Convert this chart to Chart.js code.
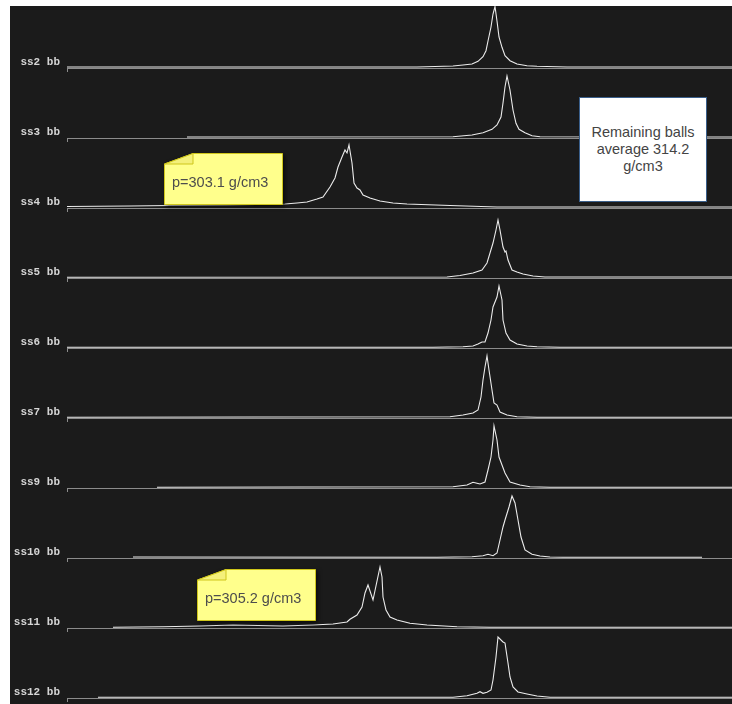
<!DOCTYPE html>
<html>
<head>
<meta charset="utf-8">
<script src="https://cdn.jsdelivr.net/npm/chart.js@4.4.1/dist/chart.umd.min.js"></script>
<style>
  body { margin: 0; background: #ffffff; width: 732px; height: 704px; position: relative; overflow: hidden; }
  #chartSection { position: absolute; left: 10px; top: 6px; width: 722px; height: 698px; background: #1b1b1b; overflow: hidden; }
  #chartSection canvas { position: absolute; left: 0; }
  .note { position: absolute; width: 119px; height: 52px; }
  .note svg { position: absolute; left: 0; top: 0; filter: drop-shadow(2px 2px 2px rgba(0,0,0,0.6)); }
  .note span { position: absolute; left: 8px; top: 21px; font: 14.5px "Liberation Sans", Arial, sans-serif; color: #4d4d4d; white-space: nowrap; }
  #infoBox { position: absolute; left: 579px; top: 97px; width: 128px; height: 105px; box-sizing: border-box;
    background: #ffffff; border: 1px solid #3a5f8b; display: flex; align-items: center; justify-content: center;
    text-align: center; font: 14.5px "Liberation Sans", Arial, sans-serif; line-height: 17px; color: #444444; }
</style>
</head>
<body>
<div id="chartSection"></div>
<div id="infoBox"></div>

<script>
// panel labels (top to bottom)
const panelLabels = ["ss2 bb", "ss3 bb", "ss4 bb", "ss5 bb", "ss6 bb", "ss7 bb", "ss9 bb", "ss10 bb", "ss11 bb", "ss12 bb"];

// traces: [channel, counts]
const ss2 = [[0,1],[350,1],[386,2],[396,3],[405,4],[411,6.7],[416,11.3],[419,17.3],[421,27],[424,41],[426,54],[428,61.5],[430,47],[432,31],[435,20.7],[438,12.3],[443,7.3],[450,4],[460,2.3],[470,1.7],[500,1],[665,1]];
const ss3 = [[120,1],[386,1.3],[405,3],[416,5.3],[425,8.7],[430,13],[434,21],[436,35],[438,51],[440,62],[443,48],[446,28],[449,14.7],[452,8.7],[458,5.3],[465,2.3],[473,1.3],[665,1]];
const ss4 = [[0,1.5],[63,2],[103,2.5],[160,3],[218,4],[230,5],[240,6],[250,9],[256,11],[263,21],[268,30],[271,41],[275,51],[278,58],[280,55],[282,63],[285,45],[287,25],[290,20],[293,18],[296,13],[303,10],[313,7],[326,5],[340,4],[383,2.5],[430,1],[665,1]];
const ss5 = [[0,0.7],[380,1],[393,2.5],[406,5],[415,8],[420,15],[423,25],[426,35],[429,48],[431,58],[433,48],[436,31],[438,26],[439,27],[441,18],[445,8],[450,6],[456,4],[466,2],[478,1],[665,1]];
const ss6 = [[0,0.7],[366,0.7],[396,1.3],[406,2],[411,4],[415,6],[418,6],[421,15],[424,28],[426,41],[430,51],[432,62],[435,48],[436,28],[439,15],[443,8],[450,4],[460,2],[470,1.3],[493,0.7],[665,0.7]];
const ss7 = [[0,0.7],[383,1.3],[396,3],[406,5],[411,8],[414,21],[416,38],[418,51],[420,62],[422,48],[425,28],[427,15],[430,13],[433,6],[440,3],[450,1.3],[470,0.7],[665,0.7]];
const ss9 = [[90,0.7],[386,1.3],[400,3],[406,5.7],[410,4.7],[413,4],[418,6],[421,18],[424,31],[426,48],[427,62],[430,48],[432,31],[435,23],[438,15],[443,6],[453,3],[463,1.3],[483,0.7],[665,0.7]];
const ss10 = [[66,1],[370,0.7],[405,1.3],[416,2.3],[421,3.7],[426,2.3],[430,5],[433,18],[436,31],[438,38],[442,51],[445,62],[448,55],[451,38],[454,21],[458,8],[465,3.7],[473,2],[483,1],[496,0.7],[635,0.7]];
const ss11 = [[46,0.7],[96,1.3],[133,2],[166,3],[216,2],[246,3],[266,4],[280,6],[283,8.7],[290,13],[295,21],[298,35],[301,43],[306,28],[313,61],[315,51],[316,31],[319,18],[323,11],[330,8],[343,4.7],[360,3],[390,1.3],[423,0.7],[665,0.7]];
const ss12 = [[31,0.7],[386,0.7],[400,2.3],[410,4.7],[413,6.3],[416,4.7],[420,5.7],[424,8],[426,18],[429,41],[431,61],[436,56],[438,55],[441,35],[443,21],[446,11],[451,6],[460,4],[470,2],[483,0.7],[665,0.7]];

const traces = [ss2, ss3, ss4, ss5, ss6, ss7, ss9, ss10, ss11, ss12];

// annotation texts
const noteTexts = ["p=303.1 g/cm3", "p=305.2 g/cm3"];
const notePositions = [[164, 153], [197, 569]];
const infoLines = ["Remaining balls", "average 314.2", "g/cm3"];

const chartLocation = document.getElementById("chartSection");

const createChart = (index, label, points) => {
    const canvas = document.createElement("canvas");
    canvas.width = 722;
    canvas.height = 70;
    canvas.style.top = (70 * index - 4) + "px";
    chartLocation.append(canvas);

    new Chart(canvas, {
        type: 'line',
        data: {
            datasets: [{
                label: label,
                data: points.map(([x, y]) => ({ x, y })),
                borderColor: '#ececec',
                borderWidth: 1.1,
                pointRadius: 0,
                tension: 0,
                fill: false
            }]
        },
        options: {
            responsive: false,
            animation: false,
            devicePixelRatio: 1,
            layout: { padding: 0 },
            plugins: { legend: { display: false }, tooltip: { enabled: false } },
            scales: {
                x: {
                    type: 'linear',
                    min: 0,
                    max: 665,
                    afterBuildTicks: (scale) => { scale.ticks = [{ value: 0 }]; },
                    ticks: { display: false },
                    grid: { drawOnChartArea: false, drawTicks: true, tickLength: 4, color: '#8c8c8c' },
                    border: { color: '#8c8c8c', width: 1 }
                },
                y: {
                    min: 0,
                    max: 66,
                    afterBuildTicks: (scale) => { scale.ticks = [{ value: 0 }]; },
                    afterFit: (scale) => { scale.width = 57; scale.paddingTop = 0; scale.paddingBottom = 0; },
                    ticks: {
                        callback: () => label,
                        color: '#d6d6d6',
                        font: { family: 'Liberation Mono', size: 11, weight: 'bold' },
                        padding: 7,
                        labelOffset: -6
                    },
                    grid: { display: false, drawTicks: false },
                    border: { display: false }
                }
            }
        }
    });
};

traces.forEach((points, i) => createChart(i, panelLabels[i], points));

// yellow sticky notes
noteTexts.forEach((text, i) => {
    const note = document.createElement("div");
    note.className = "note";
    note.style.left = notePositions[i][0] + "px";
    note.style.top = notePositions[i][1] + "px";
    note.innerHTML =
        '<svg width="119" height="52" viewBox="0 0 119 52">' +
        '<polygon points="29,0.5 118.5,0.5 118.5,51.5 0.5,51.5 0.5,11" fill="#ffff8c" stroke="#cfc61a" stroke-width="1"/>' +
        '<polygon points="0.5,11 29,0.5 29,11" fill="#f4f07a" stroke="#cfc61a" stroke-width="1"/>' +
        '</svg><span>' + text + '</span>';
    document.body.append(note);
});

document.getElementById("infoBox").innerHTML = "<div>" + infoLines.join("<br>") + "</div>";
</script>
</body>
</html>
